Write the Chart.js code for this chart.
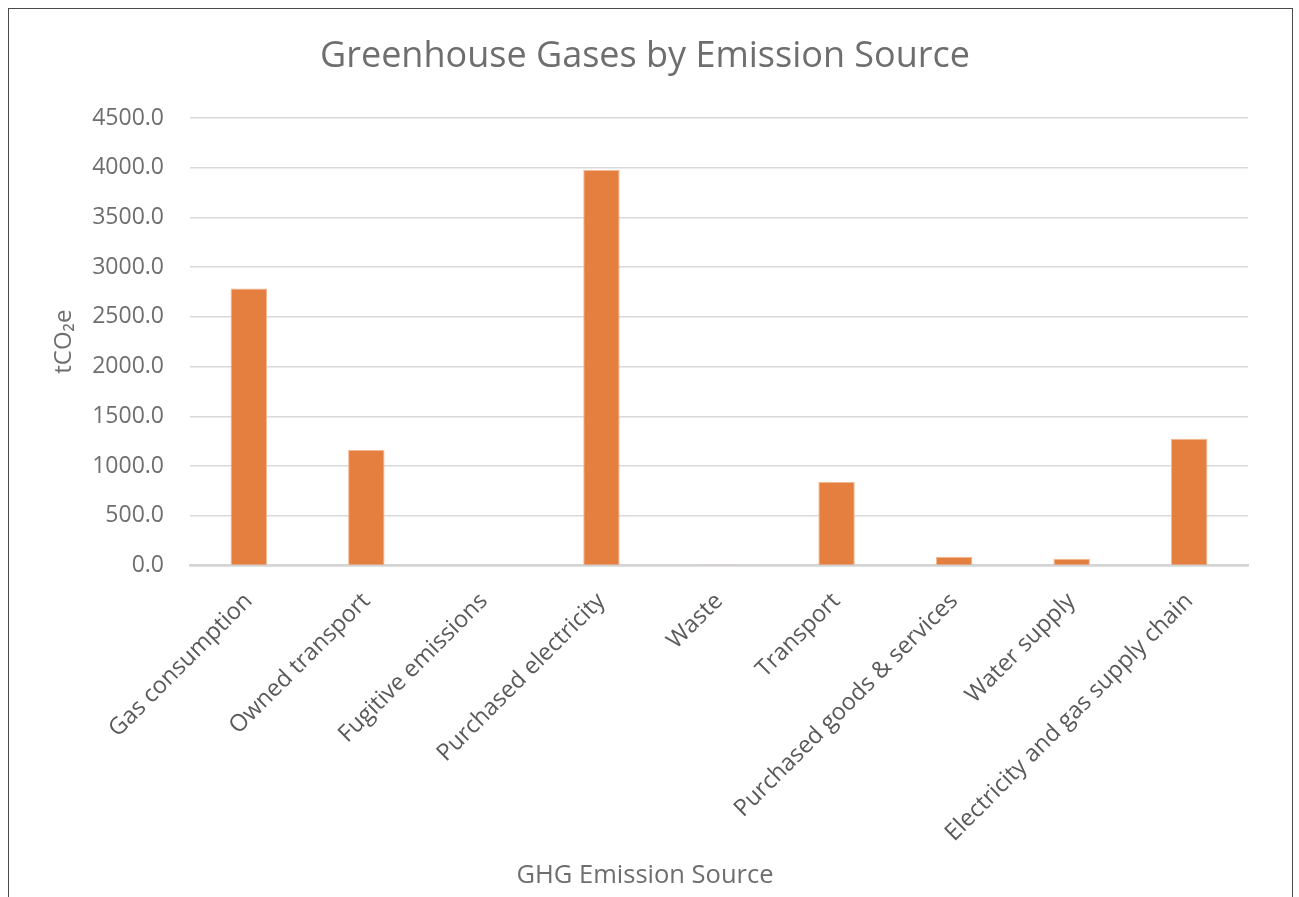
<!DOCTYPE html>
<html>
<head>
<meta charset="utf-8">
<script src="https://cdn.jsdelivr.net/npm/chart.js@4.4.1/dist/chart.umd.min.js"></script>
<style>
    html, body { margin: 0; padding: 0; background: #ffffff; }
    #wrap { position: relative; width: 1299px; height: 897px; overflow: hidden; }
    #frame {
        position: absolute; left: 8px; top: 8px; width: 1283px; height: 1000px;
        border: 1.5px solid #4a4a4a; pointer-events: none;
    }
</style>
</head>
<body>
<div id="wrap">
    <canvas id="ghgChart" width="1299" height="897"></canvas>
    <div id="frame"></div>
</div>
<script>
// Chart data
const sources = [
    'Gas consumption',
    'Owned transport',
    'Fugitive emissions',
    'Purchased electricity',
    'Waste',
    'Transport',
    'Purchased goods & services',
    'Water supply',
    'Electricity and gas supply chain'
];
const emissions = [2786, 1160, 0, 3977, 10, 839, 88, 68, 1275];
const yTicks = [0, 500, 1000, 1500, 2000, 2500, 3000, 3500, 4000, 4500];

const fontFamily = '"Open Sans", "Noto Sans", "DejaVu Sans", sans-serif';
const greyText = '#6e6e6e';

document.addEventListener('DOMContentLoaded', function() {
    const ctx = document.getElementById('ghgChart');

    new Chart(ctx, {
        type: 'bar',
        data: {
            labels: sources,
            datasets: [{
                label: 'tCO2e',
                data: emissions,
                backgroundColor: '#e57f3f',
                borderColor: '#f3b992',
                borderWidth: 1,
                barPercentage: 0.31,
                categoryPercentage: 1.0
            }]
        },
        options: {
            responsive: false,
            animation: false,
            layout: {
                padding: { top: 8, left: 8, right: 17, bottom: 0 }
            },
            plugins: {
                legend: { display: false },
                tooltip: { enabled: false },
                title: {
                    display: true,
                    text: 'Greenhouse Gases by Emission Source',
                    color: greyText,
                    font: { family: fontFamily, size: 36, weight: 'normal' },
                    padding: { top: 27.4, bottom: 39.4 }
                },
                subtitle: {
                    display: true,
                    position: 'bottom',
                    text: 'GHG Emission Source',
                    color: greyText,
                    font: { family: fontFamily, size: 25.5, weight: 'normal' },
                    padding: { top: 0, bottom: 6 }
                }
            },
            scales: {
                x: {
                    grid: { display: false },
                    border: { display: true, color: '#d4d4d4', width: 2.5 },
                    ticks: {
                        color: '#5a5a5a',
                        font: { family: fontFamily, size: 23.5 },
                        maxRotation: 45,
                        minRotation: 45,
                        autoSkip: false,
                        padding: 14
                    },
                    afterFit: function(scale) {
                        scale.height = 295;
                    }
                },
                y: {
                    min: 0,
                    max: 4500,
                    afterBuildTicks: function(scale) {
                        scale.ticks = yTicks.map(v => ({ value: v }));
                    },
                    grid: {
                        color: '#d9d9d9',
                        lineWidth: 1.5,
                        drawTicks: false
                    },
                    border: { display: false },
                    ticks: {
                        color: greyText,
                        font: { family: fontFamily, size: 23 },
                        padding: 26,
                        callback: function(value) {
                            return Number(value).toFixed(1);
                        }
                    },
                    title: {
                        display: true,
                        text: 'tCO₂e',
                        color: greyText,
                        font: { family: fontFamily, size: 24 },
                        padding: { top: 42, bottom: 0 }
                    },
                    afterFit: function(scale) {
                        scale.width = 182;
                    }
                },
                // empty spacer on the right so the title centres on the frame
                spacer: {
                    type: 'linear',
                    position: 'right',
                    display: true,
                    grid: { display: false },
                    border: { display: false },
                    ticks: { display: false },
                    afterFit: function(scale) {
                        scale.width = 34;
                    }
                }
            }
        }
    });
});
</script>
</body>
</html>
